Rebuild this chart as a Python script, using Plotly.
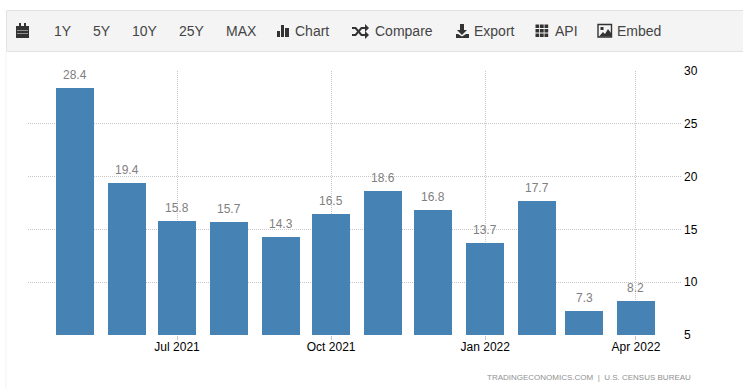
import plotly.graph_objects as go

W, H = 743, 389
L, R, T, B = 28, 682, 71, 335

months = ["2021-05-01", "2021-06-01", "2021-07-01", "2021-08-01", "2021-09-01", "2021-10-01",
          "2021-11-01", "2021-12-01", "2022-01-01", "2022-02-01", "2022-03-01", "2022-04-01"]
values = [28.4, 19.4, 15.8, 15.7, 14.3, 16.5, 18.6, 16.8, 13.7, 17.7, 7.3, 8.2]
x_ticks = ["2021-07-01", "2021-10-01", "2022-01-01", "2022-04-01"]
x_tick_labels = ["Jul 2021", "Oct 2021", "Jan 2022", "Apr 2022"]
y_ticks = [5, 10, 15, 20, 25, 30]
toolbar_labels = [("1Y", 52), ("5Y", 91), ("10Y", 130), ("25Y", 177), ("MAX", 224),
                  ("Chart", 293), ("Compare", 373), ("Export", 472), ("API", 553), ("Embed", 615)]
source = "TRADINGECONOMICS.COM  |  U.S. CENSUS BUREAU"

BAR_MS = 22.7 * 86400000
FONT = "Liberation Sans, Arial, sans-serif"

fig = go.Figure(go.Bar(
    x=months, y=values, width=BAR_MS, marker=dict(color="#4682b4", line=dict(width=0)),
    cliponaxis=False, hoverinfo="x+y",
))

def px(x):
    return (x - L) / (R - L)

def py(y):
    return (B - y) / (B - T)

def rect(x0, y0, x1, y1, fill, line=None, width=1):
    return dict(type="rect", xref="paper", yref="paper", x0=px(x0), x1=px(x1), y0=py(y0), y1=py(y1),
                fillcolor=fill, line=dict(color=line or fill, width=width if line else 0), layer="below")

def path(points, fill="#333333", line=None, width=0):
    d = "M" + " L".join(f"{px(x):.5f},{py(y):.5f}" for x, y in points) + " Z"
    return dict(type="path", xref="paper", yref="paper", path=d, fillcolor=fill,
                line=dict(color=line or fill, width=width), layer="above")

ICON = "#333333"
BG = "#f4f4f4"
shapes = [
    rect(6.5, 10.5, 745, 51.5, BG, "#e2e2e2", 1),
    rect(5.5, 51, 6.5, 389, "#f4f4f4"),
]
# calendar
shapes += [rect(16, 26, 29, 38, ICON), rect(19, 23, 21, 27, ICON), rect(24, 23, 26, 27, ICON),
           rect(17, 30, 28, 30.7, "#bbbbbb"), rect(17, 33, 28, 33.7, "#bbbbbb")]
# bar chart
shapes += [rect(277, 31, 280, 37, ICON), rect(281, 25, 284, 37, ICON), rect(285, 28, 289, 37, ICON)]
# shuffle
for pts in [[(352, 27), (356, 27), (362, 34), (366, 34), (366, 36), (361, 36), (355, 29), (352, 29)],
            [(352, 36), (356, 36), (362, 29), (366, 29), (366, 27), (361, 27), (355, 34), (352, 34)],
            [(365, 24), (369, 28), (365, 32)], [(365, 31), (369, 35), (365, 39)]]:
    shapes.append(path(pts, ICON))
# export
shapes += [path([(460, 24), (464, 24), (464, 30), (467, 30), (462, 35), (457, 30), (460, 30)], ICON),
           path([(456, 34), (458, 34), (462, 36.5), (466, 34), (469, 34), (469, 38), (456, 38)], ICON)]
# API grid
for gx in (535.5, 540, 544.5):
    for gy in (24.5, 29, 33.5):
        shapes.append(rect(gx, gy, gx + 3.7, gy + 3.5, ICON))
# embed picture
shapes += [rect(598, 24.5, 611.5, 37, BG, ICON, 1.4),
           path([(599, 36.5), (603, 32), (605, 34), (608, 29), (611, 33), (611, 36.5)], ICON),
           rect(600.5, 27, 603.5, 30, ICON)]

annotations = [dict(text=t, xref="paper", yref="paper", x=px(x), y=py(31), xanchor="left", yanchor="middle",
                    showarrow=False, font=dict(family=FONT, size=14, color="#444444"))
               for t, x in toolbar_labels]
annotations.append(dict(text=source.replace("  ", "\u00a0\u00a0"), xref="paper", yref="paper", x=px(693), y=py(377),
                        xanchor="right", yanchor="middle", showarrow=False,
                        font=dict(family=FONT, size=8, color="#909090")))
annotations += [dict(text=f"{v:.1f}", x=m, y=v, xref="x", yref="y", xanchor="center", yanchor="bottom",
                     yshift=4, showarrow=False, font=dict(family=FONT, size=12, color="#808080"))
                for m, v in zip(months, values)]

grid = dict(showgrid=True, gridcolor="#c8c8c8", gridwidth=1, griddash="1px,1px")
fig.update_layout(
    width=W, height=H, margin=dict(l=L, r=W - R, t=T, b=H - B, pad=0),
    paper_bgcolor="white", plot_bgcolor="white", showlegend=False,
    font=dict(family=FONT, size=12, color="#000000"),
    xaxis=dict(type="date", range=["2021-04-03", "2022-04-28 12:00"], tickvals=x_ticks, ticktext=x_tick_labels,
               ticks="outside", ticklen=4, tickcolor="#c8c8c8", ticklabelstandoff=-3,
               tickfont=dict(family=FONT, size=12, color="#000000"),
               zeroline=False, showline=False, **grid),
    yaxis=dict(side="right", range=[5, 30], tickvals=y_ticks, ticks="", ticklabelstandoff=1,
               tickfont=dict(family=FONT, size=12, color="#000000"),
               zeroline=False, showline=False, **grid),
    shapes=shapes, annotations=annotations, bargap=0,
)
fig.write_html("out.html", config=dict(displayModeBar=False),
               post_script="document.body.style.margin='0';document.body.style.overflow='hidden';")
